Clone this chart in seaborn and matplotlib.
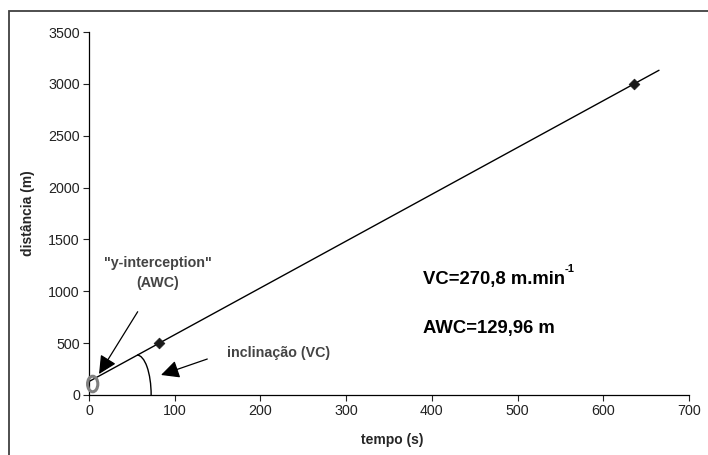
import seaborn as sns
import matplotlib.pyplot as plt
import matplotlib.patches as mpatches
import pandas as pd

# dados
tempo = [82, 636]
distancia = [500, 3000]
reta_x = [0, 665]
reta_y = [130, 3131]
x_ticks = [0, 100, 200, 300, 400, 500, 600, 700]
y_ticks = [0, 500, 1000, 1500, 2000, 2500, 3000, 3500]

sns.set_style('ticks')
plt.rcParams['font.family'] = ['Liberation Sans', 'DejaVu Sans']

df = pd.DataFrame({'tempo': tempo, 'distancia': distancia})
reta = pd.DataFrame({'x': reta_x, 'y': reta_y})

fig = plt.figure(figsize=(7.08, 4.55), dpi=100)
ax = fig.add_axes([89 / 708, 1 - 395 / 455, 600 / 708, 363 / 455])

sns.lineplot(data=reta, x='x', y='y', color='black', linewidth=1.0, ax=ax)
sns.scatterplot(data=df, x='tempo', y='distancia', marker='D', s=30,
                color='#1a1a1a', edgecolor='#1a1a1a', linewidth=0.5, ax=ax, zorder=3)

ax.set_xlim(0, 700)
ax.set_ylim(0, 3500)
ax.set_xticks(x_ticks)
ax.set_yticks(y_ticks)
sns.despine(ax=ax)
ax.tick_params(direction='out', length=4, width=0.8, pad=2.5,
               labelsize=10.3, colors='#222222')
for s in ['left', 'bottom']:
    ax.spines[s].set_linewidth(0.9)
    ax.spines[s].set_color('black')

ax.set_xlabel('tempo (s)', fontsize=10, fontweight='bold')
ax.set_ylabel('distância (m)', fontsize=10, fontweight='bold')
ax.xaxis.set_label_coords(0.505, -0.105)
ax.yaxis.set_label_coords(-0.09, 0.5)

# elipse no intercepto
ax.add_patch(mpatches.Ellipse((4.3, 106), 12, 150, fill=False,
                              edgecolor='#808080', linewidth=2.2, clip_on=False, zorder=4))
# arco da inclinação
ax.add_patch(mpatches.Arc((56, 0), 33, 770, theta1=0, theta2=90,
                          color='black', linewidth=1.0))

seta = dict(arrowstyle='-|>,head_length=0.65,head_width=0.32', color='black',
            lw=0.9, mutation_scale=17, shrinkA=0, shrinkB=0)
ax.annotate('', xy=(11.7, 202), xytext=(56.8, 803), arrowprops=seta)
ax.annotate('', xy=(84, 193), xytext=(138, 347), arrowprops=seta)

ax.text(80.5, 1273, '"y-interception"', ha='center', va='center',
        fontsize=10.3, fontweight='bold', color='#444444')
ax.text(80.5, 1080, '(AWC)', ha='center', va='center',
        fontsize=10.3, fontweight='bold', color='#444444')
ax.text(161, 408, 'inclinação (VC)', ha='left', va='center',
        fontsize=10.3, fontweight='bold', color='#444444')

vc = ax.text(389.7, 1118, 'VC=270,8 m.min', ha='left', va='center',
             fontsize=13.3, fontweight='bold', color='black')
ax.annotate('-1', xy=(1, 0.8), xycoords=vc, ha='left', va='bottom',
            fontsize=8, fontweight='bold', color='black')
ax.text(389.7, 646, 'AWC=129,96 m', ha='left', va='center',
        fontsize=13.3, fontweight='bold', color='black')

# moldura da figura
fig.patches.append(mpatches.Rectangle((9.3 / 708, -0.1), 1.2, 1 - 10.7 / 455 + 0.1,
                                      transform=fig.transFigure, fill=False,
                                      edgecolor='#404040', linewidth=1.3))

plt.savefig('out.png', dpi=100)
